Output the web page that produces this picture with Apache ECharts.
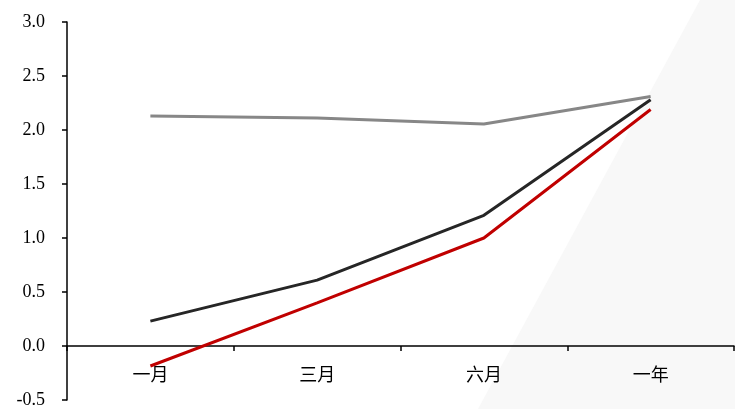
<!DOCTYPE html>
<html>
<head>
<meta charset="utf-8">
<script src="https://cdn.jsdelivr.net/npm/echarts@6/dist/echarts.min.js"></script>
<style>
  html, body { margin: 0; padding: 0; background: #fff; }
  #chart { width: 735px; height: 409px; }
</style>
</head>
<body>
<div id="chart"></div>
<script>
// Tenors along the x axis
const categories = ['一月', '三月', '六月', '一年'];

// Three yield curves
const seriesGray  = [2.13, 2.11, 2.055, 2.31];
const seriesBlack = [0.23, 0.61, 1.21, 2.28];
const seriesRed   = [-0.185, 0.40, 1.00, 2.19];

// Y axis range and step
const yMin = -0.5;
const yMax = 3.0;
const yStep = 0.5;

const fontFamily = '"Liberation Serif", "Times New Roman", "Noto Sans CJK SC", serif';

// Plot area in pixels
const gridTop = 22;
const gridBottom = 9;
const chartHeight = 409;
// Lift the category axis so it sits on the zero line
const plotHeight = chartHeight - gridTop - gridBottom;
const zeroOffset = -plotHeight * (0 - yMin) / (yMax - yMin);

const chart = echarts.init(document.getElementById('chart'));

function lineSeries(name, data, color) {
  return {
    name: name,
    type: 'line',
    data: data,
    symbol: 'none',
    lineStyle: { color: color, width: 3 },
    itemStyle: { color: color },
    z: 3
  };
}

chart.setOption({
  animation: false,
  backgroundColor: '#ffffff',
  graphic: [{
    type: 'polygon',
    z: -10,
    silent: true,
    shape: { points: [[700, 0], [735, 0], [735, 409], [478, 409]] },
    style: { fill: '#f8f8f8' }
  }],
  grid: { left: 67, right: 1, top: gridTop, bottom: gridBottom, containLabel: false, outerBoundsMode: 'none' },
  xAxis: {
    type: 'category',
    data: categories,
    boundaryGap: true,
    offset: zeroOffset,
    axisLine: { onZero: false, lineStyle: { color: '#000', width: 1.5 } },
    axisTick: { show: true, inside: false, length: 5, lineStyle: { color: '#000', width: 1.5 } },
    axisLabel: { color: '#000', fontSize: 18, fontFamily: fontFamily, margin: 21 },
    splitLine: { show: false }
  },
  yAxis: {
    type: 'value',
    min: yMin,
    max: yMax,
    interval: yStep,
    axisLine: { show: true, lineStyle: { color: '#000', width: 1.5 } },
    axisTick: { show: true, inside: false, length: 5, lineStyle: { color: '#000', width: 1.5 } },
    axisLabel: {
      color: '#000', fontSize: 18, fontFamily: fontFamily, margin: 22,
      formatter: v => v.toFixed(1)
    },
    splitLine: { show: false }
  },
  series: [
    lineSeries('灰线', seriesGray, '#878787'),
    lineSeries('黑线', seriesBlack, '#262626'),
    lineSeries('红线', seriesRed, '#c00000')
  ]
});
</script>
</body>
</html>
